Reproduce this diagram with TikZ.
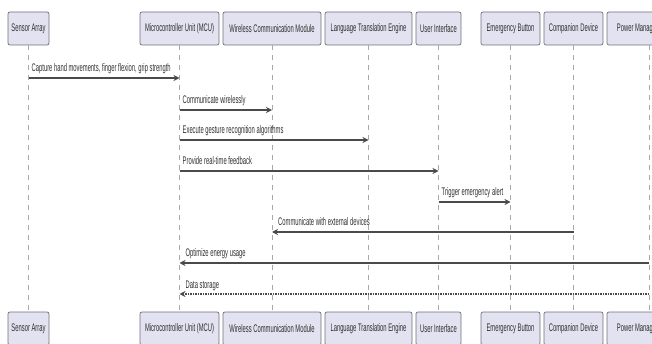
\documentclass[tikz,border=0pt]{standalone}
\usepackage{fontspec}
\setmainfont{Liberation Sans}[FakeStretch=0.53]
\usetikzlibrary{arrows.meta}
\definecolor{boxfill}{HTML}{E2E2F0}
\definecolor{boxline}{HTML}{6E6E7C}
\definecolor{lifecol}{HTML}{A8A8A8}
\definecolor{msgcol}{HTML}{4A4A4A}
\definecolor{txtcol}{HTML}{2E2E2E}
\tikzset{
  part/.style={draw=boxline, line width=0.7pt, fill=boxfill, rounded corners=2pt,
    minimum height=33pt, inner sep=0pt, text=txtcol,
    font=\fontsize{11}{12}\selectfont},
  lifeline/.style={draw=lifecol, line width=0.6pt, dash pattern=on 5pt off 5pt},
  msg/.style={draw=msgcol, line width=1.2pt, -{Stealth[length=6pt,width=6pt]}},
  retmsg/.style={msg, dash pattern=on 1.5pt off 1pt},
  lbl/.style={anchor=base west, inner sep=0pt, text=txtcol, font=\fontsize{11}{12}\selectfont}
}
\begin{document}
\begin{tikzpicture}[x=1pt,y=-1pt]
\useasboundingbox (0,0) rectangle (652,344);
\clip (0,0) rectangle (652,344);
% participants top
\node[part, minimum width=41pt] (t1) at (28.5,28.5) {Sensor Array};
\node[part, minimum width=79pt] (t2) at (179.5,28.5) {Microcontroller Unit (MCU)};
\node[part, minimum width=98pt] (t3) at (272,28.5) {Wireless Communication Module};
\node[part, minimum width=87pt] (t4) at (368.5,28.5) {Language Translation Engine};
\node[part, minimum width=45pt] (t5) at (438.5,28.5) {User Interface};
\node[part, minimum width=59pt] (t6) at (510.5,28.5) {Emergency Button};
\node[part, minimum width=59pt] (t7) at (573.5,28.5) {Companion Device};
\node[part, minimum width=84pt] (t8) at (649,28.5) {Power Management Unit};
% participants bottom
\node[part, minimum width=41pt] (b1) at (28.5,328.5) {Sensor Array};
\node[part, minimum width=79pt] (b2) at (179.5,328.5) {Microcontroller Unit (MCU)};
\node[part, minimum width=98pt] (b3) at (272,328.5) {Wireless Communication Module};
\node[part, minimum width=87pt] (b4) at (368.5,328.5) {Language Translation Engine};
\node[part, minimum width=45pt] (b5) at (438.5,328.5) {User Interface};
\node[part, minimum width=59pt] (b6) at (510.5,328.5) {Emergency Button};
\node[part, minimum width=59pt] (b7) at (573.5,328.5) {Companion Device};
\node[part, minimum width=84pt] (b8) at (649,328.5) {Power Management Unit};
% lifelines
\foreach \i in {1,...,8} { \draw[lifeline] (t\i.south) -- (b\i.north); }
% messages
\draw[msg] (t1 |- 0,78) -- (t2 |- 0,78);
\node[lbl] (l1) at ([xshift=3pt]t1 |- 0,72) {Capture hand movements, finger flexion, grip strength};
\draw[msg] (t2 |- 0,110) -- (t3 |- 0,110);
\node[lbl] (l2) at ([xshift=3pt]t2 |- 0,104) {Communicate wirelessly};
\draw[msg] (t2 |- 0,140) -- (t4 |- 0,140);
\node[lbl] (l3) at ([xshift=3pt]t2 |- 0,134) {Execute gesture recognition algorithms};
\draw[msg] (t2 |- 0,171) -- (t5 |- 0,171);
\node[lbl] (l4) at ([xshift=3pt]t2 |- 0,165) {Provide real-time feedback};
\draw[msg] (t5 |- 0,202) -- (t6 |- 0,202);
\node[lbl] (l5) at ([xshift=3pt]t5 |- 0,196) {Trigger emergency alert};
\draw[msg] (t7 |- 0,232) -- (t3 |- 0,232);
\node[lbl] (l6) at ([xshift=6pt]t3 |- 0,226) {Communicate with external devices};
\draw[msg] (t8 |- 0,263) -- (t2 |- 0,263);
\node[lbl] (l7) at ([xshift=6pt]t2 |- 0,257) {Optimize energy usage};
\draw[retmsg] (t8 |- 0,294) -- (t2 |- 0,294);
\node[lbl] (l8) at ([xshift=6pt]t2 |- 0,288) {Data storage};
\end{tikzpicture}
\end{document}
